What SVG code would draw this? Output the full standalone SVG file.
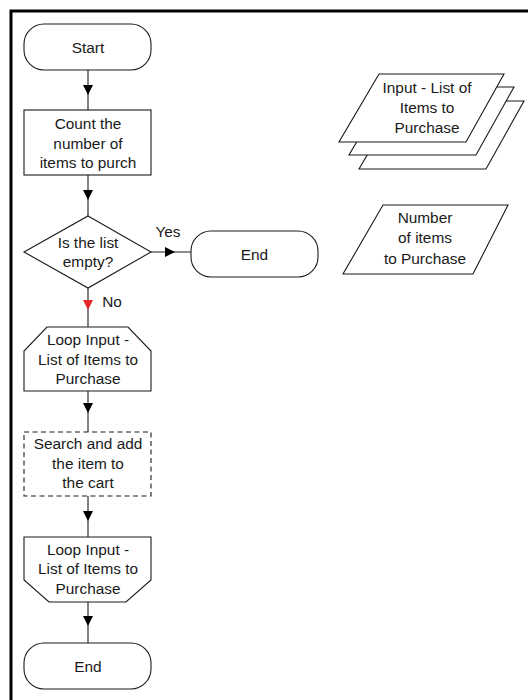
<svg xmlns="http://www.w3.org/2000/svg" width="528" height="700" viewBox="0 0 528 700">
<style>
.s{fill:#fff;stroke:#1a1a1a;stroke-width:1.1}
.d{stroke-dasharray:5 3.5}
.c{fill:none;stroke:#1a1a1a;stroke-width:1.1}
text{font-family:"Liberation Sans",Arial,sans-serif;font-size:15.4px;fill:#1a1a1a;text-anchor:middle}
</style>
<defs>
<marker id="a" viewBox="0 0 10 10" refX="5" refY="5" markerWidth="10" markerHeight="10" markerUnits="userSpaceOnUse" orient="auto"><path d="M0,0 L10,5 L0,10 z" fill="#000"/></marker>
<marker id="r" viewBox="0 0 10 10" refX="5" refY="5" markerWidth="10" markerHeight="10" markerUnits="userSpaceOnUse" orient="auto"><path d="M0,0 L10,5 L0,10 z" fill="#e8262b"/></marker>
</defs>
<rect width="528" height="700" fill="#fff"/>
<path d="M11,700 V11 H528" fill="none" stroke="#000" stroke-width="3"/>
<g id="connectors">
<path class="c" d="M88,70 L88,90 L88,110" marker-mid="url(#a)"/>
<path class="c" d="M88,175 L88,195 L88,216" marker-mid="url(#a)"/>
<path class="c" d="M151,252 L170,252 L191,252" marker-mid="url(#a)"/>
<path class="c" d="M88,288 L88,305 L88,327" marker-mid="url(#r)"/>
<path class="c" d="M88,391 L88,408 L88,432" marker-mid="url(#a)"/>
<path class="c" d="M88,496 L88,516 L88,537" marker-mid="url(#a)"/>
<path class="c" d="M88,602 L88,621 L88,643" marker-mid="url(#a)"/>
<text x="168" y="237">Yes</text>
<text x="112" y="307">No</text>
</g>
<g id="start">
<rect class="s" x="24" y="24" width="127" height="46" rx="20"/>
<text x="88" y="52.5">Start</text>
</g>
<g id="count">
<rect class="s" x="24" y="110" width="127" height="65"/>
<text x="88" y="129">Count the</text>
<text x="88" y="148.5">number of</text>
<text x="88" y="168">items to purch</text>
</g>
<g id="decision">
<path class="s" d="M88,216 L151,252 L88,288 L24,252 Z"/>
<text x="88" y="248">Is the list</text>
<text x="88" y="267">empty?</text>
</g>
<g id="end-right">
<rect class="s" x="191" y="231" width="127" height="46" rx="20"/>
<text x="254.5" y="259.5">End</text>
</g>
<g id="loop-start">
<path class="s" d="M47,327 L128,327 L151,351 L151,391 L24,391 L24,351 Z"/>
<text x="88" y="345">Loop Input -</text>
<text x="88" y="364.5">List of Items to</text>
<text x="88" y="384">Purchase</text>
</g>
<g id="search">
<rect class="s d" x="24" y="432" width="127" height="64"/>
<text x="88" y="449">Search and add</text>
<text x="88" y="468.5">the item to</text>
<text x="88" y="488">the cart</text>
</g>
<g id="loop-end">
<path class="s" d="M24,537 L151,537 L151,580 L126,602 L49,602 L24,580 Z"/>
<text x="88" y="554.5">Loop Input -</text>
<text x="88" y="574">List of Items to</text>
<text x="88" y="593.5">Purchase</text>
</g>
<g id="end-bottom">
<rect class="s" x="24" y="643" width="127" height="46" rx="20"/>
<text x="88" y="671.5">End</text>
</g>
<g id="input-list">
<path class="s" d="M399,101 L524,101 L486,169 L359,169 Z"/>
<path class="s" d="M389,87 L514,87 L476,155 L349,155 Z"/>
<path class="s" d="M379,74 L504,74 L466,142 L339,142 Z"/>
<text x="427" y="93">Input - List of</text>
<text x="427" y="113">Items to</text>
<text x="427" y="133">Purchase</text>
</g>
<g id="number">
<path class="s" d="M383,205 L508,205 L473,274 L343,274 Z"/>
<text x="425" y="223">Number</text>
<text x="425" y="243">of items</text>
<text x="425" y="264">to Purchase</text>
</g>
</svg>
